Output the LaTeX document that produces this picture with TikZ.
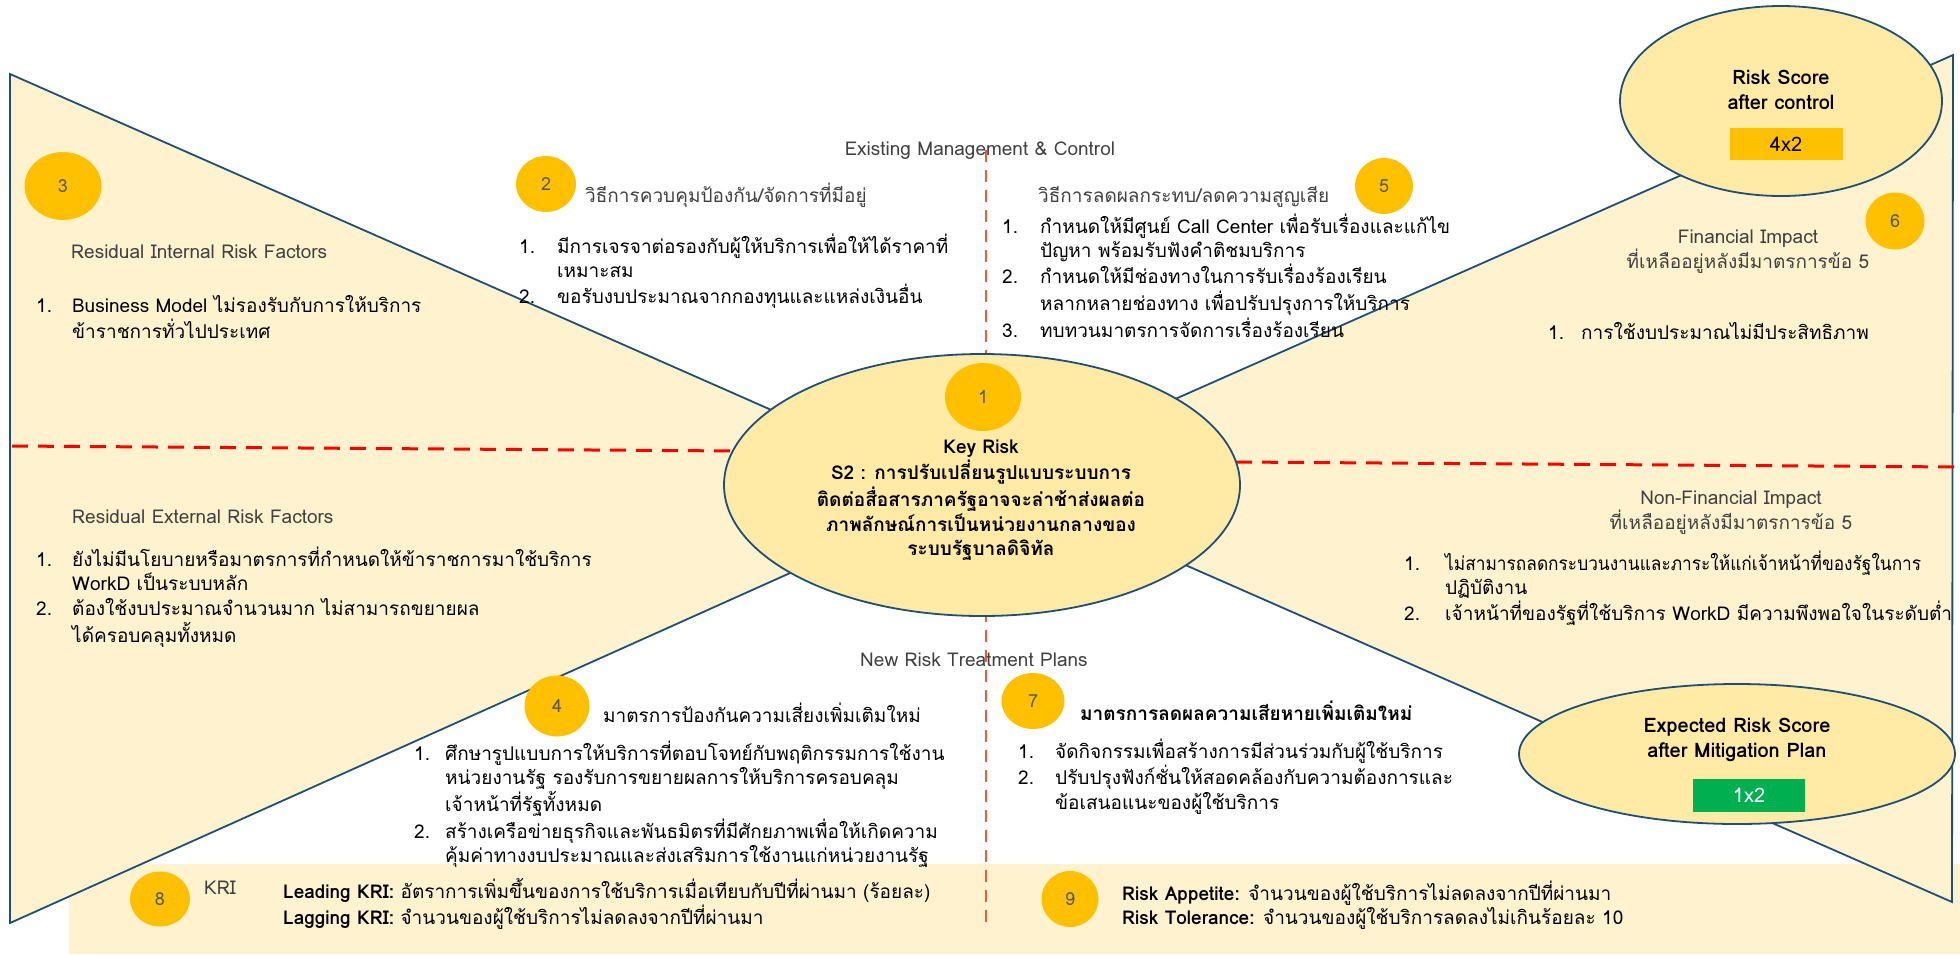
\documentclass[tikz,border=0pt]{standalone}
\usepackage{fontspec}
\usepackage{graphicx}
\setmainfont[Script=Thai]{Loma}
\usetikzlibrary{shapes.geometric}

\definecolor{trifill}{HTML}{FFF3CF}
\definecolor{ellfill}{HTML}{FFEBA5}
\definecolor{edgeblue}{HTML}{1F4E79}
\definecolor{gold}{HTML}{FFC000}
\definecolor{okgreen}{HTML}{00B050}
\definecolor{headgrey}{HTML}{404040}
\definecolor{numgrey}{HTML}{595959}
\definecolor{dashred}{HTML}{FF0000}
\definecolor{dashorange}{HTML}{EE5A3A}

% font size with a fixed 24pt line pitch
\newcommand{\tsz}[1]{\fontsize{#1}{24}\selectfont}
% numbered list: number column of width #1, rows in #2
\newcommand{\numlist}[2]{\begin{tabular}[t]{@{}p{#1}@{}l@{}}#2\end{tabular}}
% centred block of lines
\newcommand{\cblock}[1]{\begin{tabular}[t]{@{}c@{}}#1\end{tabular}}
% slightly condensed line
\newcommand{\narrow}[1]{\scalebox{0.91}[1]{#1}}

\tikzset{
  txt/.style={inner sep=0pt, anchor=base west, font=\tsz{19}},
  head/.style={txt, text=headgrey},
  badge/.style={ellipse, fill=gold, inner sep=0pt, text=numgrey, font=\tsz{18}},
  bubble/.style={ellipse, draw=edgeblue, line width=1.8pt, fill=ellfill, inner sep=0pt},
  wing/.style={draw=edgeblue, line width=1.8pt, fill=trifill, line join=miter},
  hdash/.style={draw=dashred, line width=3pt, dash pattern=on 16pt off 10pt},
  vdash/.style={draw=dashorange, line width=2.5pt, dash pattern=on 12pt off 8pt},
  scorebox/.style={inner sep=0pt, font=\tsz{20}}
}

\begin{document}
\begin{tikzpicture}[x=1pt,y=-1pt]
\useasboundingbox (0,0) rectangle (1960,954);

% KRI band along the bottom
\fill[trifill] (69,864) rectangle (1960,954);

% the two wings of the bow tie
\path[wing] (10,74) -- (964,495) -- (10,923) -- cycle;
\path[wing] (1953,55) -- (992,480) -- (1952,902) -- cycle;

% quadrant dividers
\path[hdash] (12,446) -- (738,451);
\path[hdash] (1236,462) -- (1960,467);
\path[vdash] (986,150) -- (986,360);
\path[vdash] (986,610) -- (986,926);

% central key risk and the two score bubbles
\node[bubble, minimum width=516pt, minimum height=262pt] (keyrisk) at (982,485) {};
\node[bubble, minimum width=322pt, minimum height=190pt] (aftercontrol) at (1781,101) {};
\node[bubble, minimum width=436pt, minimum height=140pt] (aftermitig) at (1737,754) {};

% score boxes
\node[scorebox, fill=gold, minimum width=113pt, minimum height=32pt] (score1) at (1786,144) {4x2};
\node[scorebox, fill=okgreen, text=white, minimum width=112pt, minimum height=33pt] (score2) at (1749,795) {1x2};

\node[txt, anchor=base, font=\tsz{20}\bfseries] (rsac) at (1781,84) {\cblock{Risk Score\\[1pt] after control}};
\node[txt, anchor=base, font=\tsz{20}\bfseries] (ersmp) at (1737,732) {\cblock{Expected Risk Score\\[1pt] after Mitigation Plan}};

% numbered badges
\node[badge, minimum width=76pt, minimum height=68pt] (b1) at (983,397) {1};
\node[badge, minimum width=60pt, minimum height=56pt] (b2) at (546,184) {2};
\node[badge, minimum width=77pt, minimum height=68pt] (b3) at (63,186) {3};
\node[badge, minimum width=65pt, minimum height=61pt] (b4) at (557,706) {4};
\node[badge, minimum width=58pt, minimum height=56pt] (b5) at (1384,186) {5};
\node[badge, minimum width=59pt, minimum height=57pt] (b6) at (1895,221) {6};
\node[badge, minimum width=63pt, minimum height=56pt] (b7) at (1033,701) {7};
\node[badge, minimum width=60pt, minimum height=55pt] (b8) at (160,899) {8};
\node[badge, minimum width=57pt, minimum height=56pt] (b9) at (1070,899) {9};

% key risk statement
\node[txt, anchor=base, font=\tsz{19}\bfseries] (krtext) at (981,453) {\cblock{Key Risk\\
S2 : การปรับเปลี่ยนรูปแบบระบบการ\\
ติดต่อสื่อสารภาครัฐอาจจะล่าช้าส่งผลต่อ\\
ภาพลักษณ์การเป็นหน่วยงานกลางของ\\
ระบบรัฐบาลดิจิทัล}};

% section titles
\node[head, anchor=base] (existing) at (980,155) {Existing Management \& Control};
\node[head, anchor=base] (newplans) at (974,666) {New Risk Treatment Plans};

% internal factors
\node[head] (intitle) at (71,258) {Residual Internal Risk Factors};
\node[txt] (inlist) at (36,312) {\numlist{36pt}{1. & Business Model ไม่รองรับกับการให้บริการ\\ & ข้าราชการทั่วไปประเทศ}};

% external factors
\node[head] (extitle) at (72,523) {Residual External Risk Factors};
\node[txt] (exlist) at (36,566) {\numlist{36pt}{1. & ยังไม่มีนโยบายหรือมาตรการที่กำหนดให้ข้าราชการมาใช้บริการ\\ & WorkD เป็นระบบหลัก\\
2. & ต้องใช้งบประมาณจำนวนมาก ไม่สามารถขยายผล\\ & ได้ครอบคลุมทั้งหมด}};

% existing preventive controls
\node[head] (ctltitle) at (585,202) {วิธีการควบคุมป้องกัน/จัดการที่มีอยู่};
\node[txt] (ctllist) at (519,253) {\numlist{38pt}{1. & มีการเจรจาต่อรองกับผู้ให้บริการเพื่อให้ได้ราคาที่\\ & เหมาะสม\\
2. & ขอรับงบประมาณจากกองทุนและแหล่งเงินอื่น}};

% existing mitigation controls
\node[head] (mittitle) at (1038,202) {วิธีการลดผลกระทบ/ลดความสูญเสีย};
\node[txt] (mitlist) at (1002,233) {\numlist{38pt}{1. & กำหนดให้มีศูนย์ Call Center เพื่อรับเรื่องและแก้ไข\\ & ปัญหา พร้อมรับฟังคำติชมบริการ\\
2. & กำหนดให้มีช่องทางในการรับเรื่องร้องเรียน\\ & หลากหลายช่องทาง เพื่อปรับปรุงการให้บริการ\\
3. & ทบทวนมาตรการจัดการเรื่องร้องเรียน}};

% financial impact
\node[head, anchor=base] (fintitle) at (1748,243) {\cblock{Financial Impact\\[-1pt] ที่เหลืออยู่หลังมีมาตรการข้อ 5}};
\node[txt] (finlist) at (1548,339) {\numlist{33pt}{1. & การใช้งบประมาณไม่มีประสิทธิภาพ}};

% non-financial impact
\node[head, anchor=base] (nftitle) at (1731,504) {\cblock{Non-Financial Impact\\[-1pt] ที่เหลืออยู่หลังมีมาตรการข้อ 5}};
\node[txt] (nflist) at (1404,570) {\numlist{41pt}{1. & \narrow{ไม่สามารถลดกระบวนงานและภาระให้แก่เจ้าหน้าที่ของรัฐในการ}\\ & ปฏิบัติงาน\\
2. & เจ้าหน้าที่ของรัฐที่ใช้บริการ WorkD มีความพึงพอใจในระดับต่ำ}};

% new preventive measures
\node[txt] (prvtitle) at (603,722) {มาตรการป้องกันความเสี่ยงเพิ่มเติมใหม่};
\node[txt] (prvlist) at (414,760) {\numlist{31pt}{1. & ศึกษารูปแบบการให้บริการที่ตอบโจทย์กับพฤติกรรมการใช้งาน\\ & หน่วยงานรัฐ รองรับการขยายผลการให้บริการครอบคลุม\\ & เจ้าหน้าที่รัฐทั้งหมด\\
2. & สร้างเครือข่ายธุรกิจและพันธมิตรที่มีศักยภาพเพื่อให้เกิดความ\\ & คุ้มค่าทางงบประมาณและส่งเสริมการใช้งานแก่หน่วยงานรัฐ}};

% new mitigation measures
\node[txt, font=\tsz{19}\bfseries] (newmittitle) at (1080,720) {มาตรการลดผลความเสียหายเพิ่มเติมใหม่};
\node[txt] (newmitlist) at (1018,758) {\numlist{37pt}{1. & จัดกิจกรรมเพื่อสร้างการมีส่วนร่วมกับผู้ใช้บริการ\\
2. & ปรับปรุงฟังก์ชั่นให้สอดคล้องกับความต้องการและ\\ & ข้อเสนอแนะของผู้ใช้บริการ}};

% indicators and appetite
\node[head] (kri) at (204,894) {KRI};
\node[txt] (krilist) at (283,898) {\numlist{0pt}{& \textbf{Leading KRI:} อัตราการเพิ่มขึ้นของการใช้บริการเมื่อเทียบกับปีที่ผ่านมา (ร้อยละ)\\
& \textbf{Lagging KRI:} จำนวนของผู้ใช้บริการไม่ลดลงจากปีที่ผ่านมา}};
\node[txt] (appetite) at (1122,900) {\numlist{0pt}{& \textbf{Risk Appetite:} จำนวนของผู้ใช้บริการไม่ลดลงจากปีที่ผ่านมา\\
& \textbf{Risk Tolerance:} จำนวนของผู้ใช้บริการลดลงไม่เกินร้อยละ 10}};

\end{tikzpicture}
\end{document}
